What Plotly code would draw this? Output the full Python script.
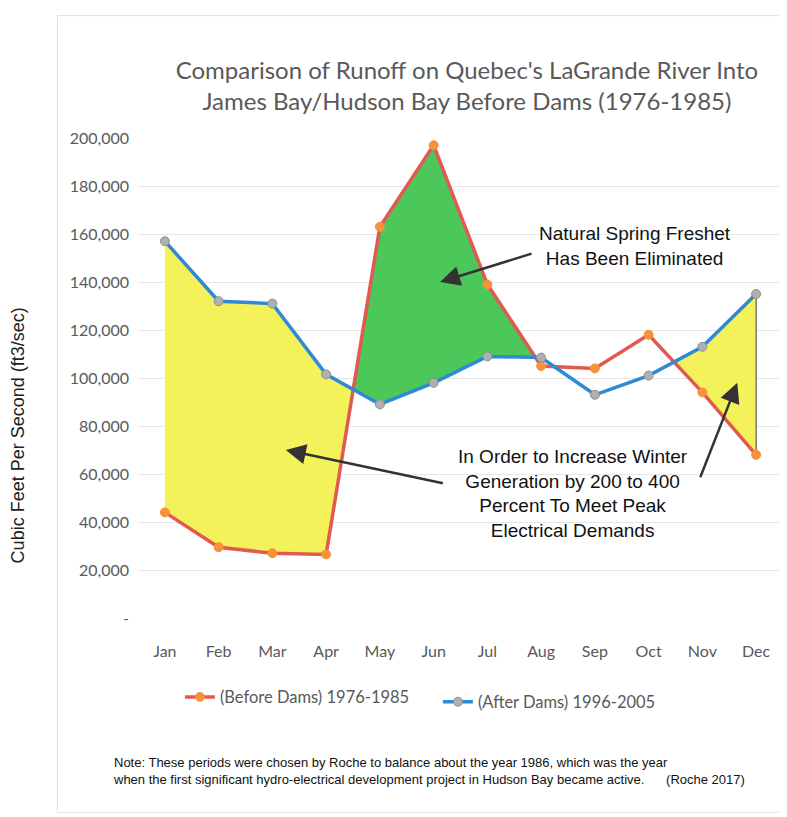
import plotly.graph_objects as go

MONTHS = ["Jan", "Feb", "Mar", "Apr", "May", "Jun", "Jul", "Aug", "Sep", "Oct", "Nov", "Dec"]
BEFORE_DAMS = [44000, 29500, 27000, 26500, 163000, 197000, 139000, 105000, 104000, 118000, 94000, 68000]
AFTER_DAMS = [157000, 132000, 131000, 101500, 89000, 98000, 109000, 108500, 93000, 101000, 113000, 135000]
Y_TICKS = [0, 20000, 40000, 60000, 80000, 100000, 120000, 140000, 160000, 180000, 200000]
Y_TICK_LABELS = ["-" if v == 0 else f"{v:,}" for v in Y_TICKS]

BEFORE_NAME = "(Before Dams) 1976-1985"
AFTER_NAME = "(After Dams) 1996-2005"
TITLE = "Comparison of Runoff on Quebec's LaGrande River Into<br>James Bay/Hudson Bay Before Dams (1976-1985)"
Y_TITLE = "Cubic Feet Per Second (ft3/sec)"
NOTE = ("Note: These periods were chosen by Roche to balance about the year 1986, which was the year<br>"
        "when the first significant hydro-electrical development project in Hudson Bay became active."
        "&nbsp;&nbsp;&nbsp;&nbsp;&nbsp;&nbsp;(Roche 2017)")
ANN_FRESHET = "Natural Spring Freshet<br>Has Been Eliminated"
ANN_WINTER = "In Order to Increase Winter<br>Generation by 200 to 400<br>Percent To Meet Peak<br>Electrical Demands"

YELLOW = "#f4f25a"
GREEN = "#4cc75a"
REGION_FILLS = [YELLOW, GREEN, None, None, YELLOW]

RED = "#e2594f"
ORANGE = "#f7923a"
BLUE = "#2e8ad4"
GREYM = "#b0b0b0"
TXT = "#595959"

xs = list(range(len(MONTHS)))

# split the span into regions between crossings of the two series
regions = []
cur_a = [(xs[0], BEFORE_DAMS[0])]
cur_b = [(xs[0], AFTER_DAMS[0])]
for i in range(len(xs) - 1):
    d0 = BEFORE_DAMS[i] - AFTER_DAMS[i]
    d1 = BEFORE_DAMS[i + 1] - AFTER_DAMS[i + 1]
    if d0 * d1 < 0:
        t = d0 / (d0 - d1)
        cx = xs[i] + t
        cy = BEFORE_DAMS[i] + t * (BEFORE_DAMS[i + 1] - BEFORE_DAMS[i])
        cur_a.append((cx, cy))
        cur_b.append((cx, cy))
        regions.append((cur_a, cur_b))
        cur_a = [(cx, cy)]
        cur_b = [(cx, cy)]
    cur_a.append((xs[i + 1], BEFORE_DAMS[i + 1]))
    cur_b.append((xs[i + 1], AFTER_DAMS[i + 1]))
regions.append((cur_a, cur_b))

fig = go.Figure()

for k, (ra, rb) in enumerate(regions):
    col = REGION_FILLS[k] if k < len(REGION_FILLS) else None
    if col is None:
        continue
    pts = ra + rb[::-1]
    fig.add_trace(go.Scatter(
        x=[p[0] for p in pts], y=[p[1] for p in pts],
        mode="lines", fill="toself", fillcolor=col,
        line=dict(color="#3a3a3a", width=1),
        hoverinfo="skip", showlegend=False,
    ))

fig.add_trace(go.Scatter(
    x=xs, y=BEFORE_DAMS, name=BEFORE_NAME, mode="lines+markers",
    line=dict(color=RED, width=3.5),
    marker=dict(color=ORANGE, size=9, line=dict(color=ORANGE, width=1)),
    legend="legend",
))
fig.add_trace(go.Scatter(
    x=xs, y=AFTER_DAMS, name=AFTER_NAME, mode="lines+markers",
    line=dict(color=BLUE, width=3.5),
    marker=dict(color=GREYM, size=9, line=dict(color="#8f8f8f", width=1)),
    legend="legend2",
))

NARROW = "Liberation Sans Narrow, Arial Narrow, Liberation Sans, sans-serif"
LEG_FONT = dict(family="Lato, Open Sans, sans-serif", size=16.5, color=TXT)

annotations = [
    dict(text=ANN_FRESHET, x=8.75, y=155000, xref="x", yref="y", showarrow=False,
         font=dict(family=NARROW, size=19, color="#111111"), align="center"),
    dict(text=ANN_WINTER, x=7.6, y=52000, xref="x", yref="y", showarrow=False,
         font=dict(family=NARROW, size=19, color="#111111"), align="center"),
    dict(text="", x=5.12, y=140000, ax=6.85, ay=152000, xref="x", yref="y", axref="x", ayref="y",
         showarrow=True, arrowhead=2, arrowsize=1.6, arrowwidth=2.5, arrowcolor="#333333"),
    dict(text="", x=2.25, y=70000, ax=5.2, ay=56000, xref="x", yref="y", axref="x", ayref="y",
         showarrow=True, arrowhead=2, arrowsize=1.6, arrowwidth=2.5, arrowcolor="#333333"),
    dict(text="", x=10.65, y=98000, ax=9.95, ay=58000, xref="x", yref="y", axref="x", ayref="y",
         showarrow=True, arrowhead=2, arrowsize=1.6, arrowwidth=2.5, arrowcolor="#333333"),
    dict(text=Y_TITLE, x=-0.205, y=0.38, xref="paper", yref="paper", showarrow=False, textangle=-90,
         font=dict(family="Liberation Sans, Arial, sans-serif", size=18, color="#222222")),
    dict(text=NOTE, x=-0.042, y=-0.282, xref="paper", yref="paper", showarrow=False,
         xanchor="left", yanchor="top", align="left",
         font=dict(family=NARROW, size=13, color="#111111")),
]

fig.update_layout(
    width=787, height=817,
    paper_bgcolor="white", plot_bgcolor="white",
    margin=dict(l=130, r=12, t=130, b=207),
    title=dict(text=TITLE, xref="paper", x=0.51, xanchor="center", y=0.913, yanchor="middle",
               font=dict(family="Lato, Open Sans, sans-serif", size=24, color=TXT)),
    xaxis=dict(
        range=[-0.5, len(MONTHS) - 0.5], tickvals=xs, ticktext=MONTHS,
        showgrid=False, zeroline=False, showline=False, ticks="",
        ticklabelstandoff=22,
        tickfont=dict(family="Lato, Open Sans, sans-serif", size=16, color=TXT),
    ),
    yaxis=dict(
        range=[0, 200000], tickvals=Y_TICKS, ticktext=Y_TICK_LABELS,
        showgrid=True, gridcolor="#e6e6e6", gridwidth=1, zeroline=False, showline=False,
        ticklabelstandoff=8,
        tickfont=dict(family="Lato, Open Sans, sans-serif", size=16, color=TXT),
    ),
    legend=dict(orientation="h", x=0.065, xanchor="left", y=-0.165, yanchor="middle",
                font=LEG_FONT, itemwidth=30, bgcolor="rgba(0,0,0,0)"),
    legend2=dict(orientation="h", x=0.465, xanchor="left", y=-0.175, yanchor="middle",
                 font=LEG_FONT, itemwidth=30, bgcolor="rgba(0,0,0,0)"),
    annotations=annotations,
    shapes=[dict(type="rect", xref="paper", yref="paper",
                 x0=-0.125, x1=1.01, y0=-0.405, y1=1.255,
                 line=dict(color="#e2e2e2", width=1), layer="below")],
    showlegend=True,
)

fig.write_html("out.html")
